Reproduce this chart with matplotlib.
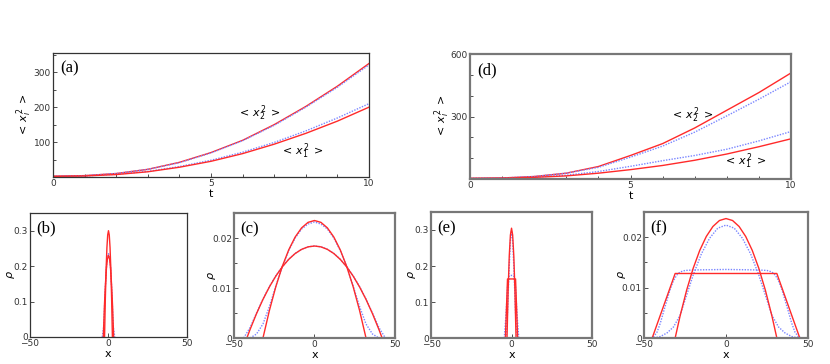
import numpy as np
import matplotlib.pyplot as plt
from matplotlib.ticker import MultipleLocator

# ---- data ----
t = [0, 1, 2, 3, 4, 5, 6, 7, 8, 9, 10]

# panel (a)
a_x2_red = [2, 4, 10, 22, 42, 70, 105, 150, 202, 260, 325]
a_x2_blue = [2, 4, 10, 22, 41, 69, 104, 148, 200, 257, 321]
a_x1_red = [2, 3, 7, 15, 28, 45, 67, 94, 125, 160, 200]
a_x1_blue = [2, 3, 8, 16, 30, 48, 71, 99, 132, 169, 210]

# panel (d)
d_x2_red = [3, 5, 12, 28, 60, 113, 170, 245, 330, 415, 509]
d_x2_blue = [3, 5, 12, 28, 56, 105, 158, 225, 303, 383, 467]
d_x1_blue = [3, 4, 9, 18, 36, 61, 88, 113, 143, 183, 228]
d_x1_red = [3, 4, 8, 15, 28, 45, 65, 90, 120, 155, 193]

# panel (b): narrow peaks
b_x_tall = [-2.5, -2.0, -1.5, -1.0, -0.5, 0, 0.5, 1.0, 1.5, 2.0, 2.5]
b_rho_tall = [0, 0.108, 0.192, 0.252, 0.288, 0.30, 0.288, 0.252, 0.192, 0.108, 0]
b_x_low = [-3.3, -2.6, -2.0, -1.3, -0.7, 0, 0.7, 1.3, 2.0, 2.6, 3.3]
b_rho_low = [0, 0.087, 0.145, 0.194, 0.220, 0.23, 0.220, 0.194, 0.145, 0.087, 0]
b_x_blue = [-4.0, -3.0, -2.0, -1.0, 0, 1.0, 2.0, 3.0, 4.0]
b_rho_blue = [0, 0.03, 0.14, 0.22, 0.235, 0.22, 0.14, 0.03, 0]

# panel (c)
c_x_tall = [-32, -28, -24, -20, -16, -12, -8, -4, 0, 4, 8, 12, 16, 20, 24, 28, 32]
c_rho_tall = [0, .00551, .01028, .01432, .01763, .0202, .02203, .02313, .0235,
              .02313, .02203, .0202, .01763, .01432, .01028, .00551, 0]
c_x_broad = [-42, -40, -36, -32, -28, -24, -20, -16, -12, -8, -4, 0,
             4, 8, 12, 16, 20, 24, 28, 32, 36, 40, 42]
c_rho_broad = [0, .00171, .00488, .00772, .01022, .01239, .01423, .01573, .0169, .01773, .01823, .0184,
               .01823, .01773, .0169, .01573, .01423, .01239, .01022, .00772, .00488, .00171, 0]
c_x_blue_tall = [-40, -36, -32, -28, -24, -20, -16, -12, -8, -4, 0,
                 4, 8, 12, 16, 20, 24, 28, 32, 36, 40]
c_rho_blue_tall = [0, .0008, .0028, .0063, .0104, .0143, .0175, .02, .0218, .0228, .0232,
                   .0228, .0218, .02, .0175, .0143, .0104, .0063, .0028, .0008, 0]
c_x_blue_broad = [-44, -40, -36, -32, -28, -24, -20, -16, -12, -8, -4, 0,
                  4, 8, 12, 16, 20, 24, 28, 32, 36, 40, 44]
c_rho_blue_broad = [0, .0021, .005, .0078, .0103, .01245, .01427, .01576, .01692, .01775, .01825, .0184,
                    .01825, .01775, .01692, .01576, .01427, .01245, .0103, .0078, .005, .0021, 0]

# panel (e)
e_x_peak = [-2.8, -2.1, -1.4, -0.7, 0, 0.7, 1.4, 2.1, 2.8]
e_rho_peak = [0, 0.133, 0.229, 0.286, 0.305, 0.286, 0.229, 0.133, 0]
e_x_trap = [-3.8, -2.5, 2.5, 3.8]
e_rho_trap = [0, 0.164, 0.164, 0]
e_x_blue_peak = [-3.5, -2.5, -1.5, -0.7, 0, 0.7, 1.5, 2.5, 3.5]
e_rho_blue_peak = [0, 0.07, 0.19, 0.27, 0.298, 0.27, 0.19, 0.07, 0]
e_x_blue_flat = [-4.5, -3.5, -2.5, -1.5, 0, 1.5, 2.5, 3.5, 4.5]
e_rho_blue_flat = [0, 0.06, 0.14, 0.172, 0.174, 0.172, 0.14, 0.06, 0]

# panel (f)
f_x_par = [-31, -28, -24, -20, -16, -12, -8, -4, 0, 4, 8, 12, 16, 20, 24, 28, 31]
f_rho_par = [0, .00437, .00949, .01384, .01739, .02015, .02212, .02331, .0237,
             .02331, .02212, .02015, .01739, .01384, .00949, .00437, 0]
f_x_trap = [-45, -31, 31, 45]
f_rho_trap = [0, 0.0128, 0.0128, 0]
f_x_blue_tall = [-44, -40, -36, -32, -28, -24, -20, -15, -10, -5, 0,
                 5, 10, 15, 20, 24, 28, 32, 36, 40, 44]
f_rho_blue_tall = [0, .0003, .001, .0022, .0045, .0085, .0125, .0167, .0198, .0218, .0224,
                   .0218, .0198, .0167, .0125, .0085, .0045, .0022, .001, .0003, 0]
f_x_blue_flat = [-46, -44, -42, -40, -38, -36, -34, -32, -30, -28, -25, -20, 0,
                 20, 25, 28, 30, 32, 34, 36, 38, 40, 42, 44, 46]
f_rho_blue_flat = [0, .0003, .0012, .003, .0053, .0075, .0097, .0114, .0125, .0131, .0134, .0135, .0136,
                   .0135, .0134, .0131, .0125, .0114, .0097, .0075, .0053, .003, .0012, .0003, 0]

RED = '#ff2a2a'
BLUE = '#7a86ff'

plt.rcParams['font.family'] = 'DejaVu Sans'
fig = plt.figure(figsize=(8.3, 3.64), dpi=100)


def style(ax, thick=False):
    for s in ax.spines.values():
        s.set_linewidth(1.6 if thick else 0.9)
        s.set_color('#777777' if thick else '#333333')
    ax.tick_params(direction='in', which='both', labelsize=6.5, pad=1.5,
                   top=False, right=False, length=3, width=0.6, colors='#333333')
    ax.tick_params(which='minor', length=2)


def red(ax, x, y):
    ax.plot(x, y, color=RED, lw=1.0)


def blue(ax, x, y):
    ax.plot(x, y, color=BLUE, lw=1.0, ls=(0, (1, 1)))


def panel_label(ax, s, x=0.04):
    ax.text(x, 0.84, s, transform=ax.transAxes, fontsize=12,
            family='Liberation Serif')


# (a)
ax = fig.add_axes([0.0639, 0.5137, 0.3807, 0.3407])
red(ax, t, a_x2_red); blue(ax, t, a_x2_blue)
blue(ax, t, a_x1_blue); red(ax, t, a_x1_red)
ax.set_xlim(0, 10); ax.set_ylim(0, 355)
ax.set_xticks([0, 5, 10]); ax.xaxis.set_minor_locator(MultipleLocator(1))
ax.set_yticks([100, 200, 300]); ax.yaxis.set_minor_locator(MultipleLocator(50))
ax.set_xlabel('t', fontsize=8, labelpad=1)
ax.set_ylabel(r'$<\,x_i^{\,2}\,>$', fontsize=8)
ax.yaxis.set_label_coords(-0.06, 0.5)
ax.text(6.5, 183, r'$<\,x_2^{\,2}\,>$', fontsize=8, ha='center', va='center')
ax.text(7.85, 75, r'$<\,x_1^{\,2}\,>$', fontsize=8, ha='center', va='center')
style(ax)
panel_label(ax, '(a)', 0.022)

# (d)
ax = fig.add_axes([0.5663, 0.5082, 0.3867, 0.3434])
red(ax, t, d_x2_red); blue(ax, t, d_x2_blue)
blue(ax, t, d_x1_blue); red(ax, t, d_x1_red)
ax.set_xlim(0, 10); ax.set_ylim(0, 600)
ax.set_xticks([0, 5, 10]); ax.xaxis.set_minor_locator(MultipleLocator(1))
ax.set_yticks([300, 600]); ax.yaxis.set_minor_locator(MultipleLocator(100))
ax.set_xlabel('t', fontsize=8, labelpad=1)
ax.set_ylabel(r'$<\,x_i^{\,2}\,>$', fontsize=8)
ax.yaxis.set_label_coords(-0.055, 0.5)
ax.text(6.9, 305, r'$<\,x_2^{\,2}\,>$', fontsize=8, ha='center', va='center')
ax.text(8.55, 86, r'$<\,x_1^{\,2}\,>$', fontsize=8, ha='center', va='center')
style(ax, thick=True)
panel_label(ax, '(d)', 0.022)

# (b)
ax = fig.add_axes([0.0361, 0.0742, 0.1892, 0.3407])
blue(ax, b_x_blue, b_rho_blue)
red(ax, b_x_low, b_rho_low); red(ax, b_x_tall, b_rho_tall)
ax.set_xlim(-50, 50); ax.set_ylim(0, 0.35)
ax.set_xticks([-50, 0, 50]); ax.set_yticks([0, 0.1, 0.2, 0.3])
ax.set_yticklabels(['0', '0.1', '0.2', '0.3'])
ax.set_xlabel('x', fontsize=8, labelpad=1)
ax.set_ylabel(r'$\rho$', fontsize=8)
ax.yaxis.set_label_coords(-0.08, 0.5)
style(ax)
panel_label(ax, '(b)')

# (c)
ax = fig.add_axes([0.2819, 0.0714, 0.1940, 0.3434])
blue(ax, c_x_blue_broad, c_rho_blue_broad); blue(ax, c_x_blue_tall, c_rho_blue_tall)
red(ax, c_x_broad, c_rho_broad); red(ax, c_x_tall, c_rho_tall)
ax.set_xlim(-50, 50); ax.set_ylim(0, 0.025)
ax.set_xticks([-50, 0, 50]); ax.set_yticks([0, 0.01, 0.02])
ax.set_yticklabels(['0', '0.01', '0.02'])
ax.yaxis.set_minor_locator(MultipleLocator(0.005))
ax.set_xlabel('x', fontsize=8, labelpad=1)
ax.set_ylabel(r'$\rho$', fontsize=8)
ax.yaxis.set_label_coords(-0.1, 0.5)
style(ax, thick=True)
panel_label(ax, '(c)')

# (e)
ax = fig.add_axes([0.5193, 0.0714, 0.1940, 0.3462])
blue(ax, e_x_blue_flat, e_rho_blue_flat); blue(ax, e_x_blue_peak, e_rho_blue_peak)
red(ax, e_x_trap, e_rho_trap); red(ax, e_x_peak, e_rho_peak)
ax.set_xlim(-50, 50); ax.set_ylim(0, 0.35)
ax.set_xticks([-50, 0, 50]); ax.set_yticks([0, 0.1, 0.2, 0.3])
ax.set_yticklabels(['0', '0.1', '0.2', '0.3'])
ax.set_xlabel('x', fontsize=8, labelpad=1)
ax.set_ylabel(r'$\rho$', fontsize=8)
ax.yaxis.set_label_coords(-0.08, 0.5)
style(ax, thick=True)
panel_label(ax, '(e)')

# (f)
ax = fig.add_axes([0.7759, 0.0714, 0.1976, 0.3462])
blue(ax, f_x_blue_flat, f_rho_blue_flat); blue(ax, f_x_blue_tall, f_rho_blue_tall)
red(ax, f_x_trap, f_rho_trap); red(ax, f_x_par, f_rho_par)
ax.set_xlim(-50, 50); ax.set_ylim(0, 0.025)
ax.set_xticks([-50, 0, 50]); ax.set_yticks([0, 0.01, 0.02])
ax.set_yticklabels(['0', '0.01', '0.02'])
ax.yaxis.set_minor_locator(MultipleLocator(0.005))
ax.set_xlabel('x', fontsize=8, labelpad=1)
ax.set_ylabel(r'$\rho$', fontsize=8)
ax.yaxis.set_label_coords(-0.1, 0.5)
style(ax, thick=True)
panel_label(ax, '(f)')

fig.savefig('out.png', dpi=100)
